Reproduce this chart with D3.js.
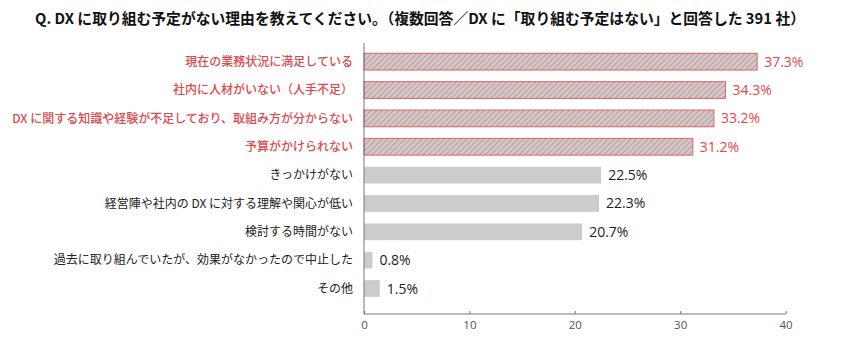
<!DOCTYPE html>
<html><head><meta charset="utf-8">
<script src="https://cdn.jsdelivr.net/npm/d3@7"></script>
<style>body{margin:0;background:#fff;}svg{display:block;}</style>
</head><body>
<svg id="c" width="847" height="358"></svg>
<script>
const titleText = "Q. DX に取り組む予定がない理由を教えてください。（複数回答／DX に「取り組む予定はない」と回答した 391 社）";
const categories = [
  "現在の業務状況に満足している",
  "社内に人材がいない（人手不足）",
  "DX に関する知識や経験が不足しており、取組み方が分からない",
  "予算がかけられない",
  "きっかけがない",
  "経営陣や社内の DX に対する理解や関心が低い",
  "検討する時間がない",
  "過去に取り組んでいたが、効果がなかったので中止した",
  "その他"
];
const values = [37.3, 34.3, 33.2, 31.2, 22.5, 22.3, 20.7, 0.8, 1.5];
const highlighted = [true, true, true, true, false, false, false, false, false];
const xTicks = [0, 10, 20, 30, 40];

const RED = "#e0474c";
const svg = d3.select("#c");
const font = "'Noto Sans CJK JP', 'Noto Sans', sans-serif";
const numFont = "'Open Sans', 'Noto Sans', sans-serif";

const defs = svg.append("defs");
const pat = defs.append("pattern").attr("id", "hatch").attr("patternUnits", "userSpaceOnUse")
  .attr("width", 4).attr("height", 4).attr("patternTransform", "rotate(45)");
pat.append("rect").attr("width", 4).attr("height", 4).attr("fill", "#cbcbcb");
pat.append("line").attr("x1", 0).attr("y1", 0).attr("x2", 0).attr("y2", 4)
  .attr("stroke", "#e06a6a").attr("stroke-width", 1.2);

const x = d3.scaleLinear().domain([0, 40]).range([364, 785.6]);
const y = d3.scaleBand().domain(categories).range([47.5, 302.7]).paddingInner(0.41).paddingOuter(0.205);

// title
svg.append("text").attr("x", 35).attr("y", 24).text(titleText)
  .attr("font-family", font).attr("font-weight", "bold").attr("font-size", 15)
  .attr("fill", "#111").attr("textLength", 770).attr("lengthAdjust", "spacingAndGlyphs");

// bars
svg.selectAll("rect.bar").data(values).join("rect").attr("class", "bar")
  .attr("x", x(0)).attr("y", (d, i) => y(categories[i]))
  .attr("width", d => x(d) - x(0)).attr("height", y.bandwidth())
  .attr("fill", (d, i) => highlighted[i] ? "url(#hatch)" : "#cbcccb")
  .attr("stroke", (d, i) => highlighted[i] ? "#e06262" : "none")
  .attr("stroke-width", 1);

// category labels
svg.selectAll("text.cat").data(categories).join("text").attr("class", "cat")
  .attr("x", 353).attr("y", d => y(d) + y.bandwidth() / 2).attr("dy", "0.35em")
  .attr("text-anchor", "end").attr("font-family", font).attr("font-size", 12)
  .attr("font-weight", (d, i) => highlighted[i] ? 500 : 400)
  .attr("fill", (d, i) => highlighted[i] ? RED : "#222").text(d => d);

// value labels
svg.selectAll("text.val").data(values).join("text").attr("class", "val")
  .attr("x", d => x(d) + 7).attr("y", (d, i) => y(categories[i]) + y.bandwidth() / 2).attr("dy", "0.36em")
  .attr("font-family", numFont).attr("font-size", 14)
  .attr("font-weight", (d, i) => highlighted[i] ? 500 : 400)
  .attr("fill", (d, i) => highlighted[i] ? RED : "#222").text(d => d.toFixed(1) + "%");

// axes
const ax = svg.append("g").attr("transform", "translate(0,314)")
  .call(d3.axisBottom(x).tickValues(xTicks).tickSize(-3).tickPadding(7));
ax.select(".domain").attr("stroke", "#777").attr("d", `M${x(0)},0H${x(40)}`);
ax.selectAll(".tick line").attr("stroke", "#777");
ax.selectAll(".tick text").attr("font-family", numFont).attr("font-size", 11.5).attr("fill", "#555");
svg.append("line").attr("x1", x(0)).attr("x2", x(0)).attr("y1", 43).attr("y2", 314)
  .attr("stroke", "#777").attr("stroke-width", 1);
</script>
</body></html>
